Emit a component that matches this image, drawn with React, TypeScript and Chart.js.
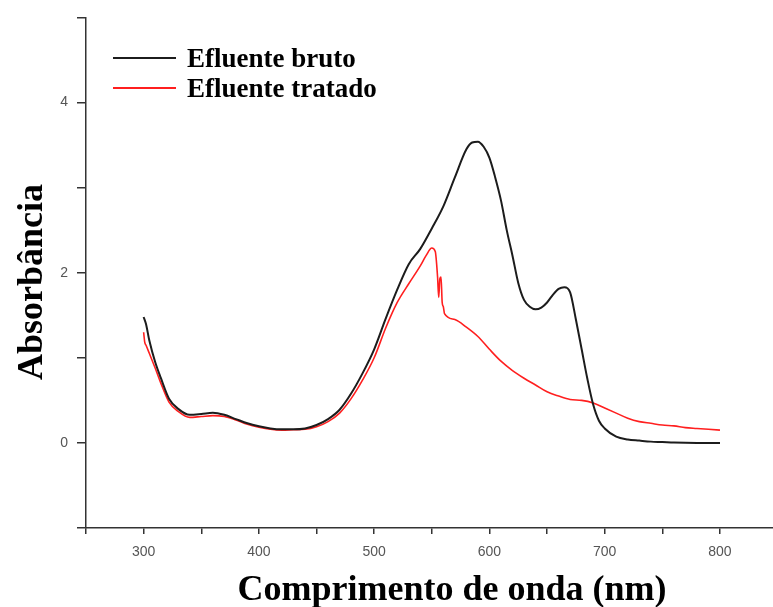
import React, { useEffect, useRef } from "react";
import { Chart, registerables } from "chart.js";

Chart.register(...registerables);

// UV-Vis spectra: raw effluent (bruto) and treated effluent (tratado)
const brutoNm = [
  300, 302, 305, 310, 315, 322, 330, 340, 350, 360, 370, 380, 390, 400, 410, 420, 430, 440,
  450, 460, 470, 480, 490, 500, 510, 520, 530, 540, 550, 560, 570, 580, 585, 590, 595, 600,
  605, 610, 615, 620, 625, 630, 635, 640, 645, 650, 655, 660, 665, 670, 675, 680, 685, 690,
  695, 700, 710, 720, 730, 740, 750, 760, 780, 800,
];
const brutoAbs = [
  1.48, 1.4, 1.2, 0.95, 0.76, 0.52, 0.4, 0.33, 0.34, 0.355, 0.33, 0.28, 0.23, 0.195, 0.17,
  0.16, 0.16, 0.17, 0.21, 0.28, 0.39, 0.58, 0.82, 1.1, 1.46, 1.8, 2.1, 2.28, 2.52, 2.78, 3.12,
  3.45, 3.53, 3.54, 3.48, 3.35, 3.12, 2.85, 2.5, 2.2, 1.88, 1.68, 1.6, 1.57, 1.59, 1.65, 1.74,
  1.81, 1.83, 1.77, 1.45, 1.1, 0.75, 0.45, 0.26, 0.17, 0.074, 0.04, 0.027, 0.015, 0.01, 0.004,
  0.0, 0.0,
];

const tratadoNm = [
  300, 301, 302, 305, 310, 315, 322, 330, 340, 350, 360, 370, 380, 390, 400, 410, 420, 430,
  440, 450, 460, 470, 480, 490, 500, 510, 520, 530, 540, 545, 550, 553, 555, 556, 557, 558,
  559, 560, 561, 570, 580, 590, 600, 610, 620, 630, 640, 650, 660, 670, 680, 690, 700, 710,
  720, 730, 740, 750, 760, 770, 780, 790, 800,
];
const tratadoAbs = [
  1.3, 1.18, 1.15, 1.05, 0.88, 0.7, 0.48, 0.37, 0.3, 0.31, 0.32, 0.31, 0.27, 0.22, 0.185, 0.16,
  0.15, 0.155, 0.16, 0.19, 0.25, 0.35, 0.52, 0.74, 1.0, 1.35, 1.65, 1.87, 2.08, 2.2, 2.29, 2.25,
  1.95, 1.71, 1.93, 1.95, 1.65, 1.6, 1.52, 1.45, 1.36, 1.25, 1.1, 0.96, 0.85, 0.76, 0.68, 0.6,
  0.55, 0.51, 0.5, 0.47, 0.41, 0.35, 0.29, 0.25, 0.23, 0.21, 0.2, 0.18, 0.17, 0.16, 0.15,
];

const seriesLabels = ["Efluente bruto", "Efluente tratado"];
const seriesColors = ["#1c1c1c", "#ff1f1f"];

const xTitle = "Comprimento de onda (nm)";
const yTitle = "Absorbância";

const xLabelled = [300, 400, 500, 600, 700, 800];
const yLabelled = [0, 2, 4];

const serif = '"Liberation Serif", "Times New Roman", serif';
const sans = '"Liberation Sans", Arial, sans-serif';

// Axis titles and the in-plot legend
const decorations = {
  id: "decorations",
  afterDraw(chart: any) {
    const ctx = chart.ctx as CanvasRenderingContext2D;
    ctx.save();
    ctx.fillStyle = "#000";

    ctx.font = `bold 36px ${serif}`;
    ctx.textAlign = "center";
    ctx.textBaseline = "alphabetic";
    ctx.fillText(xTitle, 452, 600);

    ctx.save();
    ctx.translate(42, 282);
    ctx.rotate(-Math.PI / 2);
    ctx.fillText(yTitle, 0, 0);
    ctx.restore();

    ctx.font = `bold 27px ${serif}`;
    ctx.textAlign = "left";
    chart.data.datasets.forEach((ds: any, i: number) => {
      const y = 58 + i * 30;
      ctx.strokeStyle = ds.borderColor;
      ctx.lineWidth = 2;
      ctx.beginPath();
      ctx.moveTo(113, y);
      ctx.lineTo(176, y);
      ctx.stroke();
      ctx.fillStyle = "#000";
      ctx.fillText(ds.label, 187, y + 9);
    });
    ctx.restore();
  },
};

export default function App() {
  const canvasRef = useRef<HTMLCanvasElement | null>(null);

  useEffect(() => {
    const canvas = canvasRef.current;
    if (!canvas) return;
    const chart = new Chart(canvas, {
      type: "line",
      data: {
        datasets: [
          {
            label: seriesLabels[0],
            data: brutoNm.map((x, i) => ({ x, y: brutoAbs[i] })),
            borderColor: seriesColors[0],
            borderWidth: 2,
            pointRadius: 0,
            cubicInterpolationMode: "monotone",
            fill: false,
          },
          {
            label: seriesLabels[1],
            data: tratadoNm.map((x, i) => ({ x, y: tratadoAbs[i] })),
            borderColor: seriesColors[1],
            borderWidth: 1.6,
            pointRadius: 0,
            cubicInterpolationMode: "monotone",
            fill: false,
          },
        ],
      },
      options: {
        animation: false,
        responsive: false,
        maintainAspectRatio: false,
        layout: { padding: { left: 0, top: 15, right: 0, bottom: 0 } },
        plugins: {
          legend: { display: false },
          tooltip: { enabled: false },
          title: { display: false },
        },
        scales: {
          x: {
            type: "linear",
            min: 250,
            max: 846,
            afterBuildTicks: (scale: any) => {
              scale.ticks = scale.ticks.filter((t: any) => t.value % 50 === 0);
            },
            afterFit: (scale: any) => {
              scale.height = 79;
            },
            ticks: {
              stepSize: 50,
              autoSkip: false,
              maxRotation: 0,
              padding: 10,
              color: "#555",
              font: { family: sans, size: 14 },
              callback: (v: any) => (xLabelled.includes(Number(v)) ? String(v) : ""),
            },
            grid: {
              drawOnChartArea: false,
              drawTicks: true,
              tickLength: 6,
              color: "#333",
              lineWidth: 1.5,
            },
            border: { display: true, color: "#333", width: 1.5 },
          },
          y: {
            type: "linear",
            min: -1,
            max: 5,
            afterFit: (scale: any) => {
              scale.width = 86;
            },
            ticks: {
              stepSize: 1,
              autoSkip: false,
              padding: 9,
              color: "#555",
              font: { family: sans, size: 14 },
              callback: (v: any) => (yLabelled.includes(Number(v)) ? String(v) : ""),
            },
            grid: {
              drawOnChartArea: false,
              drawTicks: true,
              tickLength: 9,
              color: "#333",
              lineWidth: 1.5,
            },
            border: { display: true, color: "#333", width: 1.5 },
          },
        },
      },
      plugins: [decorations],
    });
    return () => chart.destroy();
  }, []);

  return (
    <div style={{ position: "fixed", left: 0, top: 0, width: 773, height: 607, background: "#fff" }}>
      <canvas ref={canvasRef} width={773} height={607} style={{ display: "block" }} />
    </div>
  );
}
